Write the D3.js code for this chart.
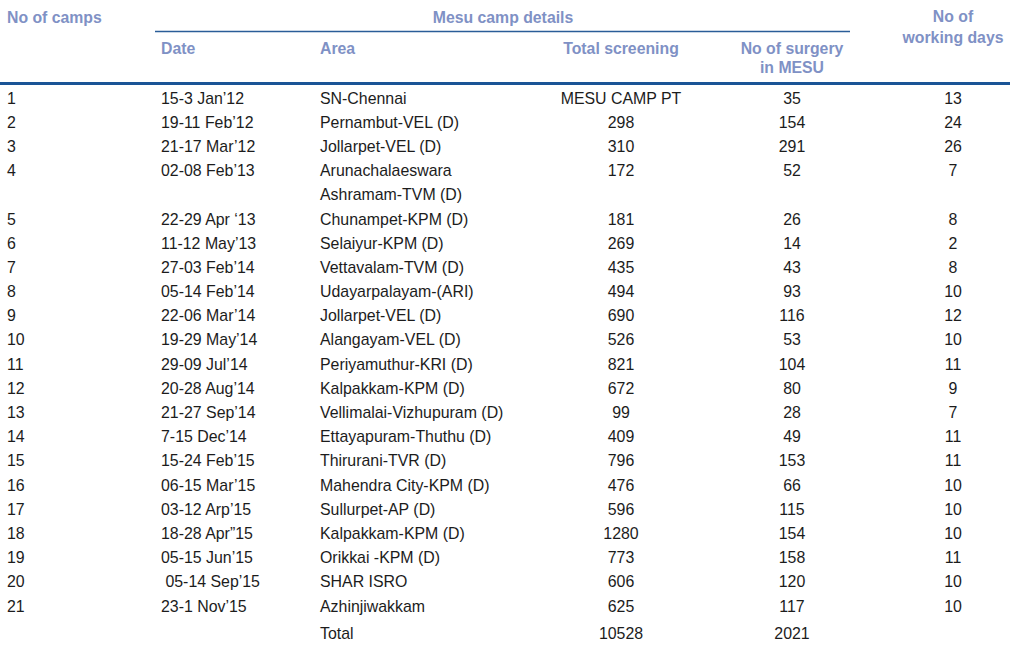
<!DOCTYPE html>
<html>
<head>
<meta charset="utf-8">
<script src="https://cdn.jsdelivr.net/npm/d3@7"></script>
<style>
  body { margin: 0; background: #fff; }
  svg { display: block; font-family: "Liberation Sans", Arial, Helvetica, sans-serif; }
  .hd { font-weight: bold; fill: #7f91c5; font-size: 15.8px; }
  .cell { fill: #1c1c1c; font-size: 15.9px; white-space: pre; }
</style>
</head>
<body>
<svg id="chart"></svg>
<script>
// table data
const campNo = ['1','2','3','4','5','6','7','8','9','10','11','12','13','14','15','16','17','18','19','20','21'];
const dates = ['15-3 Jan\u201912','19-11 Feb\u201912','21-17 Mar\u201912','02-08 Feb\u201913','22-29 Apr \u201813','11-12 May\u201913',
  '27-03 Feb\u201914','05-14 Feb\u201914','22-06 Mar\u201914','19-29 May\u201914','29-09 Jul\u201914','20-28 Aug\u201914',
  '21-27 Sep\u201914','7-15 Dec\u201914','15-24 Feb\u201915','06-15 Mar\u201915','03-12 Arp\u201915','18-28 Apr\u201d15',
  '05-15 Jun\u201915',' 05-14 Sep\u201915','23-1 Nov\u201915'];
const areas = [['SN-Chennai'],['Pernambut-VEL (D)'],['Jollarpet-VEL (D)'],['Arunachalaeswara','Ashramam-TVM (D)'],
  ['Chunampet-KPM (D)'],['Selaiyur-KPM (D)'],['Vettavalam-TVM (D)'],['Udayarpalayam-(ARI)'],['Jollarpet-VEL (D)'],
  ['Alangayam-VEL (D)'],['Periyamuthur-KRI (D)'],['Kalpakkam-KPM (D)'],['Vellimalai-Vizhupuram (D)'],
  ['Ettayapuram-Thuthu (D)'],['Thirurani-TVR (D)'],['Mahendra City-KPM (D)'],['Sullurpet-AP (D)'],
  ['Kalpakkam-KPM (D)'],['Orikkai -KPM (D)'],['SHAR ISRO'],['Azhinjiwakkam']];
const screening = ['MESU CAMP PT','298','310','172','181','269','435','494','690','526','821','672','99','409','796','476','596','1280','773','606','625'];
const surgery = ['35','154','291','52','26','14','43','93','116','53','104','80','28','49','153','66','115','154','158','120','117'];
const workDays = ['13','24','26','7','8','2','8','10','12','10','11','9','7','11','11','10','10','10','11','10','10'];
const totalScreening = '10528';
const totalSurgery = '2021';

const W = 1010, H = 645;
const svg = d3.select('#chart').attr('width', W).attr('height', H);

// column positions
const col = { no: 7, date: 161, area: 320, scr: 621, surg: 792, days: 953 };

// line index -> y (row 4 takes two lines)
const y = d3.scaleLinear().domain([0, 21]).range([98, 606]);

let line = 0;
const rows = campNo.map((n, i) => {
  const r = { no: n, date: dates[i], area: areas[i], scr: screening[i], surg: surgery[i], days: workDays[i], line: line };
  line += areas[i].length;
  return r;
});

// header
const hd = svg.append('g');
function htext(x, yy, t, anchor) {
  hd.append('text').attr('class', 'hd').attr('x', x).attr('y', yy)
    .attr('dy', '0.35em').attr('text-anchor', anchor || 'start').text(t);
}
htext(col.no, 17, 'No of camps');
htext(503, 17, 'Mesu camp details', 'middle');
htext(col.date, 48, 'Date');
htext(col.area, 48, 'Area');
htext(col.scr, 48, 'Total screening', 'middle');
htext(col.surg, 48, 'No of surgery', 'middle');
htext(col.surg, 67, 'in MESU', 'middle');
htext(col.days, 16, 'No of', 'middle');
htext(col.days, 37, 'working days', 'middle');

svg.append('line').attr('x1', 155).attr('x2', 850).attr('y1', 31.5).attr('y2', 31.5)
  .attr('stroke', '#2a5d98').attr('stroke-width', 1.5);
svg.append('line').attr('x1', 0).attr('x2', W).attr('y1', 83.5).attr('y2', 83.5)
  .attr('stroke', '#1a5496').attr('stroke-width', 3);

// body rows
const g = svg.append('g');
const rowG = g.selectAll('g.row').data(rows).enter().append('g').attr('class', 'row')
  .attr('transform', d => `translate(0,${y(d.line)})`);

function cellText(sel, x, acc, anchor) {
  sel.append('text').attr('class', 'cell').attr('x', x).attr('dy', '0.35em')
    .attr('text-anchor', anchor).text(acc);
}
cellText(rowG, col.no, d => d.no, 'start');
cellText(rowG, col.date, d => d.date, 'start');
cellText(rowG, col.scr, d => d.scr, 'middle');
cellText(rowG, col.surg, d => d.surg, 'middle');
cellText(rowG, col.days, d => d.days, 'middle');
rowG.each(function(d) {
  const t = d3.select(this);
  d.area.forEach((a, k) => {
    t.append('text').attr('class', 'cell').attr('x', col.area)
      .attr('y', y(k) - y(0)).attr('dy', '0.35em').text(a);
  });
});

// total row
const ty = y(line) + 3;
g.append('text').attr('class', 'cell').attr('x', col.area).attr('y', ty).attr('dy', '0.35em').text('Total');
g.append('text').attr('class', 'cell').attr('x', col.scr).attr('y', ty).attr('dy', '0.35em').attr('text-anchor', 'middle').text(totalScreening);
g.append('text').attr('class', 'cell').attr('x', col.surg).attr('y', ty).attr('dy', '0.35em').attr('text-anchor', 'middle').text(totalSurgery);
</script>
</body>
</html>
